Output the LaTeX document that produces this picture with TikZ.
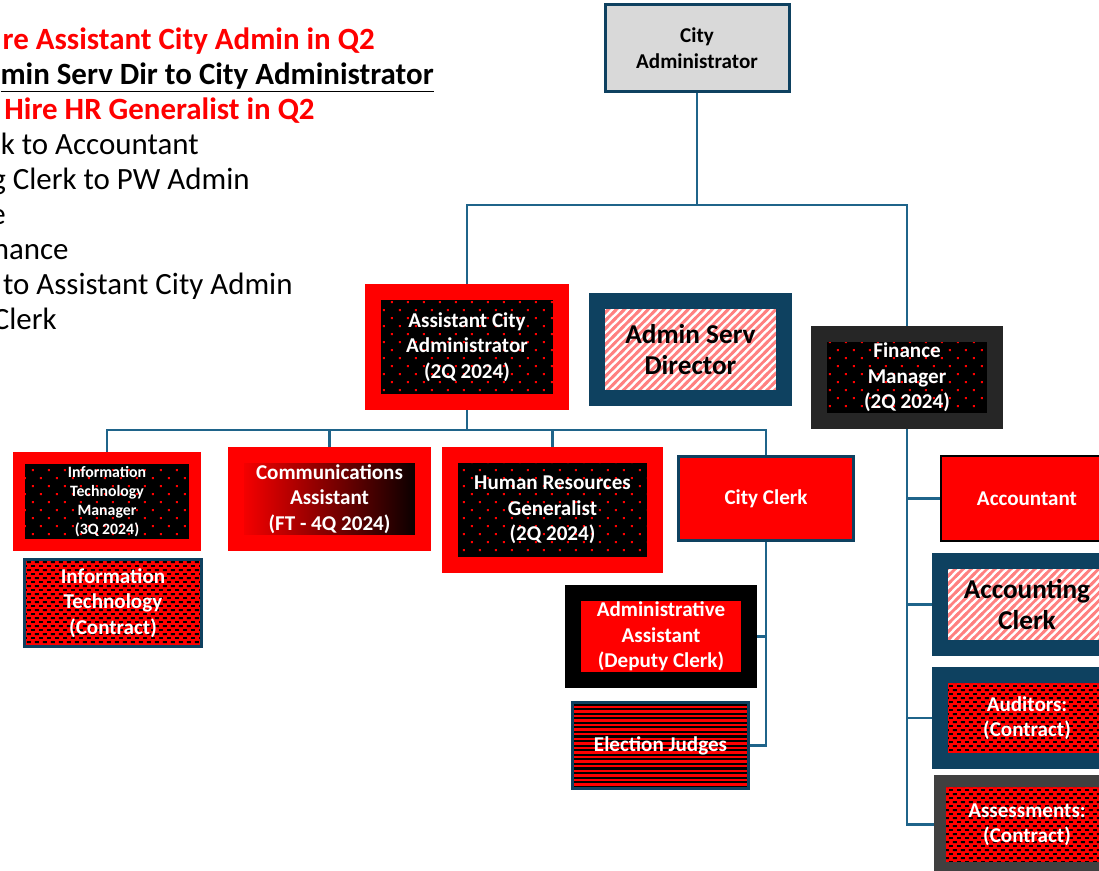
\documentclass[tikz,border=0pt]{standalone}
\usepackage{fontspec}
\setmainfont{Carlito}
\usetikzlibrary{patterns,calc}
\definecolor{navyedge}{RGB}{14,65,96}
\definecolor{linkblue}{RGB}{31,100,138}
\definecolor{lightbox}{RGB}{217,217,217}
\definecolor{pinkline}{RGB}{255,128,128}
\definecolor{darkedge}{RGB}{38,38,38}
\definecolor{greyedge}{RGB}{64,64,64}
\newlength{\pxu}
\setlength{\pxu}{0.02cm}

% fill patterns of the boxes
\pgfdeclarepatternformonly{reddots}{\pgfqpoint{0pt}{0pt}}{\pgfqpoint{9.07pt}{9.07pt}}{\pgfqpoint{9.07pt}{9.07pt}}{
  \pgfpathrectangle{\pgfqpoint{0.5pt}{0.5pt}}{\pgfqpoint{1.2pt}{1.2pt}}
  \pgfpathrectangle{\pgfqpoint{5.04pt}{5.04pt}}{\pgfqpoint{1.2pt}{1.2pt}}
  \pgfusepath{fill}}
\pgfdeclarepatternformonly{smalldashes}{\pgfqpoint{0pt}{0pt}}{\pgfqpoint{4.54pt}{4.54pt}}{\pgfqpoint{4.54pt}{4.54pt}}{
  \pgfpathrectangle{\pgfqpoint{0pt}{0pt}}{\pgfqpoint{2.27pt}{1.1pt}}
  \pgfpathrectangle{\pgfqpoint{2.27pt}{2.27pt}}{\pgfqpoint{2.27pt}{1.1pt}}
  \pgfusepath{fill}}
\pgfdeclarepatternformonly{hstripes}{\pgfqpoint{-0.5pt}{0pt}}{\pgfqpoint{4.5pt}{2.6pt}}{\pgfqpoint{4pt}{2.6pt}}{
  \pgfpathrectangle{\pgfqpoint{-0.5pt}{0pt}}{\pgfqpoint{5pt}{1.2pt}}
  \pgfusepath{fill}}
\pgfdeclarepatternformonly{pinkstripes}{\pgfqpoint{-1.5pt}{-1.5pt}}{\pgfqpoint{6.04pt}{6.04pt}}{\pgfqpoint{4.54pt}{4.54pt}}{
  \pgfsetlinewidth{1.6pt}
  \pgfpathmoveto{\pgfqpoint{-1.2pt}{-1.2pt}}
  \pgfpathlineto{\pgfqpoint{5.74pt}{5.74pt}}
  \pgfusepath{stroke}}

\tikzset{
  conn/.style={draw=linkblue, line width=1.4pt},
  sz/.style 2 args={minimum width=#1\pxu, minimum height=#2\pxu},
  boxtext/.style={font=\bfseries\fontsize{12}{14.5}\selectfont, text=white, align=center, inner sep=0pt},
  bigtext/.style={font=\bfseries\fontsize{15.5}{18}\selectfont, text=black, align=center, inner sep=0pt},
  dotbox/.style={preaction={fill=black}, pattern=reddots, pattern color=red},
  stripebox/.style={preaction={fill=white}, pattern=pinkstripes, pattern color=pinkline},
  dashbox/.style={preaction={fill=red}, pattern=smalldashes, pattern color=black},
  linebox/.style={preaction={fill=red}, pattern=hstripes, pattern color=black},
  note/.style={anchor=base east, inner sep=0pt, font=\fontsize{17.6}{21}\selectfont},
  boldnote/.style={anchor=base east, inner sep=0pt, font=\bfseries\fontsize{17.6}{21}\selectfont},
}

\begin{document}
\begin{tikzpicture}[x=0.02cm, y=-0.02cm]
  \useasboundingbox[fill=white] (0,0) rectangle (1099,870);

  % notes at the top left
  \node[boldnote, text=red] (note1) at (375,49) {re Assistant City Admin in Q2};
  \node[boldnote] (note2) at (434,84) {\underline{min Serv Dir to City Administrator}};
  \node[boldnote, text=red] (note3) at (315,119) {Hire HR Generalist in Q2};
  \node[note] (note4) at (199,154) {k to Accountant};
  \node[note] (note5) at (250,189) {g Clerk to PW Admin};
  \node[note] (note6) at (6,224) {e};
  \node[note] (note7) at (69,259) {nance};
  \node[note] (note8) at (293,294) {to Assistant City Admin};
  \node[note] (note9) at (57,329) {Clerk};

  % top level
  \node[boxtext, text=black, sz={184}{87}, fill=lightbox, draw=navyedge, line width=1.7pt]
    (cityadmin) at (697,48) {City\\Administrator};

  % second level
  \node[boxtext, sz={188}{110}, dotbox, draw=red, line width=9.08pt]
    (asstadmin) at (467,347) {Assistant City\\Administrator\\(2Q 2024)};
  \node[bigtext, sz={187}{97}, stripebox, draw=navyedge, line width=9.08pt]
    (adminserv) at (690.5,349.5) {Admin Serv\\Director};
  \node[boxtext, sz={176}{87}, dotbox, draw=darkedge, line width=9.08pt]
    (finmgr) at (907,377.5) {Finance\\Manager\\(2Q 2024)};

  % under the assistant city administrator
  \node[boxtext, font=\bfseries\fontsize{9}{10.8}\selectfont, sz={176}{87}, dotbox, draw=red, line width=6.8pt]
    (itmgr) at (107,501.5) {Information\\Technology\\Manager\\(3Q 2024)};
  \node[boxtext, sz={177}{87}, dashbox, draw=navyedge, line width=1.7pt]
    (itcontract) at (113,603) {Information\\Technology\\(Contract)};
  \node[boxtext, sz={187}{88}, shading=axis, left color=red, middle color=gray!55, right color=black, draw=red, line width=9.08pt]
    (comm) at (329.5,499) {Communications\\Assistant\\(FT - 4Q 2024)};
  \node[boxtext, sz={205}{110}, dotbox, draw=red, line width=8.8pt]
    (hr) at (552.5,510) {Human Resources\\Generalist\\(2Q 2024)};
  \node[boxtext, sz={175}{84}, fill=red, draw=navyedge, line width=1.7pt]
    (cityclerk) at (766,498.5) {City Clerk};

  % under the city clerk
  \node[boxtext, sz={176}{87}, fill=red, draw=black, line width=9.08pt]
    (adminasst) at (661,636.5) {Administrative\\Assistant\\(Deputy Clerk)};
  \node[boxtext, sz={176}{86}, linebox, draw=navyedge, line width=1.7pt]
    (judges) at (660.5,745.5) {Election Judges};

  % under the finance manager
  \node[boxtext, sz={172}{85}, fill=red, draw=black, line width=1.1pt]
    (accountant) at (1027,498.5) {Accountant};
  \node[bigtext, sz={174}{87}, stripebox, draw=navyedge, line width=9.08pt]
    (acctclerk) at (1027,604.5) {Accounting\\Clerk};
  \node[boxtext, sz={174}{86}, dashbox, draw=navyedge, line width=9.08pt]
    (auditors) at (1027,718) {Auditors:\\(Contract)};
  \node[boxtext, sz={174}{87}, dashbox, draw=greyedge, line width=6.8pt]
    (assess) at (1027,824.5) {Assessments:\\(Contract)};

  % connectors
  \coordinate (topbus) at (697,205);
  \coordinate (midbus) at (467,430);
  \draw[conn] (cityadmin.south) -- (topbus);
  \draw[conn] (asstadmin.north) |- (topbus) -| (finmgr.north);
  \draw[conn] (asstadmin.south) -- (midbus);
  \draw[conn] (itmgr.north) |- (midbus) -| (cityclerk.north);
  \draw[conn] (comm.north) -- (comm.north |- midbus);
  \draw[conn] (hr.north) -- (hr.north |- midbus);
  \draw[conn] (cityclerk.south) |- (judges.east);
  \draw[conn] (adminasst.east) -- (adminasst.east -| cityclerk.south);
  \draw[conn] (finmgr.south) |- (assess.west);
  \foreach \n in {accountant,acctclerk,auditors}
    \draw[conn] (\n.west) -- (\n.west -| finmgr.south);
\end{tikzpicture}
\end{document}
